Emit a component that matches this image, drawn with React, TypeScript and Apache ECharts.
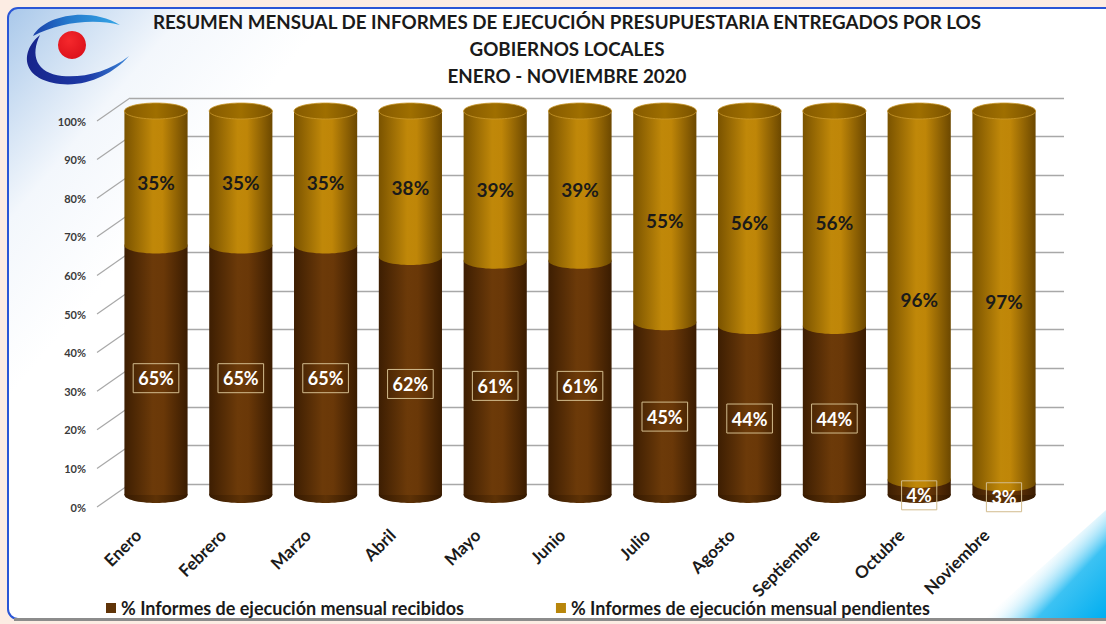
import React, { useEffect, useRef } from "react";
import * as echarts from "echarts";

const months = ["Enero", "Febrero", "Marzo", "Abril", "Mayo", "Junio", "Julio", "Agosto", "Septiembre", "Octubre", "Noviembre"];
const recibidos = [65, 65, 65, 62, 61, 61, 45, 44, 44, 4, 3];
const pendientes = [35, 35, 35, 38, 39, 39, 55, 56, 56, 96, 97];
const yTicks = [0, 10, 20, 30, 40, 50, 60, 70, 80, 90, 100];
const seriesNames = ["% Informes de ejecución mensual recibidos", "% Informes de ejecución mensual pendientes"];
const titleLines = [
  "RESUMEN MENSUAL DE INFORMES DE EJECUCIÓN PRESUPUESTARIA ENTREGADOS POR LOS",
  "GOBIERNOS LOCALES",
  "ENERO - NOVIEMBRE 2020",
];

const FONT = "Lato, 'Open Sans', sans-serif";

const TOP_SWOOSH = "M 33 36 C 44 16 88 6 120 25 C 92 18 58 23 33 36 Z";
const BOTTOM_SWOOSH = "M 40 35 C 21 50 19 79 60 84 C 87 87 113 74 129 56 C 109 72 83 78 62 76 C 36 73 30 55 40 35 Z";
let registered = false;
function registerShapes() {
  if (registered) return;
  registered = true;
  echarts.graphic.registerShape("swooshTop", echarts.graphic.extendPath(TOP_SWOOSH, {}));
  echarts.graphic.registerShape("swooshBottom", echarts.graphic.extendPath(BOTTOM_SWOOSH, {}));
}

const lg = (stops: [number, string][]) =>
  new echarts.graphic.LinearGradient(0, 0, 1, 0, stops.map(([offset, color]) => ({ offset, color })));

export default function App() {
  const ref = useRef<HTMLDivElement>(null);
  useEffect(() => {
    registerShapes();
    const chart = echarts.init(ref.current!, null, { renderer: "svg" });

    const brown = () => lg([[0, "#3d1e02"], [0.45, "#6c3a09"], [0.62, "#6a3808"], [1, "#3a1c01"]]);
    const brownBottom = () => lg([[0, "#361a01"], [0.5, "#5e3206"], [1, "#331800"]]);
    const gold = () => lg([[0, "#7a5300"], [0.45, "#c08809"], [0.6, "#bf8608"], [1, "#6c4800"]]);
    const topFace = () => lg([[0, "#855a00"], [0.5, "#9f6f00"], [1, "#7a5200"]]);

    const option: any = {
      animation: false,
      backgroundColor: "#fcece3",
      title: {
        text: titleLines.join("\n"),
        left: 567,
        top: 8,
        textAlign: "center",
        padding: 0,
        textStyle: { fontFamily: FONT, fontWeight: "bold", fontSize: 18.8, lineHeight: 27, color: "#1a1a1a" },
      },
      graphic: [
        {
          type: "rect",
          z: -10,
          shape: { x: 8, y: 8, width: 1120, height: 611, r: 10 },
          style: {
            fill: new echarts.graphic.LinearGradient(8, 8, 200, 170, [
              { offset: 0, color: "#a9c8ea" },
              { offset: 0.55, color: "#f3f7fc" },
              { offset: 1, color: "#ffffff" },
            ], true),
            stroke: "#2a56d6",
            lineWidth: 2,
          },
        },
        {
          type: "line",
          z: -9,
          shape: { x1: 14, y1: 619.5, x2: 1106, y2: 619.5 },
          style: { stroke: "#8c8c8c", lineWidth: 3 },
        },
        {
          type: "polygon",
          z: -8,
          shape: { points: [[985, 618], [1106, 618], [1106, 510]] },
          style: {
            fill: new echarts.graphic.LinearGradient(1106, 618, 1040, 556, [
              { offset: 0, color: "#00aef0" },
              { offset: 0.55, color: "#3cc2f3" },
              { offset: 1, color: "rgba(255,255,255,0)" },
            ], true),
          },
        },
        {
          type: "swooshTop",
          z: 5,
          x: 0,
          y: 0,
          scaleX: 1,
          scaleY: 1,
          style: {
            fill: new echarts.graphic.LinearGradient(33, 20, 120, 20, [
              { offset: 0, color: "#1a3fa8" },
              { offset: 0.4, color: "#2478cc" },
              { offset: 1, color: "#35a6e6" },
            ], true),
          },
        },
        {
          type: "swooshBottom",
          z: 5,
          x: 0,
          y: 0,
          scaleX: 1,
          scaleY: 1,
          style: {
            fill: new echarts.graphic.LinearGradient(25, 60, 129, 60, [
              { offset: 0, color: "#17238a" },
              { offset: 0.6, color: "#1d3aa6" },
              { offset: 1, color: "#3a86d8" },
            ], true),
          },
        },
        {
          type: "circle",
          z: 6,
          shape: { cx: 72, cy: 45, r: 14 },
          style: {
            fill: new echarts.graphic.RadialGradient(0.4, 0.35, 0.8, [
              { offset: 0, color: "#f5282c" },
              { offset: 1, color: "#d80d18" },
            ]),
          },
        },
      ],
      legend: {
        left: 101,
        top: 594,
        itemWidth: 10,
        itemHeight: 10,
        itemGap: 92,
        icon: "rect",
        selectedMode: false,
        data: seriesNames,
        textStyle: { fontFamily: FONT, fontWeight: "bold", fontSize: 18, color: "#1a1a1a" },
      },
      grid: [
        { left: 130, right: 42, top: 98, height: 386 },
        { left: 97, right: 900, top: 121, height: 386 },
        { left: 113.6, right: 59.6, top: 111, height: 384 },
        { left: 95.6, right: 77.6, top: 111, height: 384 },
      ],
      xAxis: [
        { gridIndex: 0, type: "category", data: months, show: false },
        { gridIndex: 1, type: "value", min: 0, max: 1, show: false },
        { gridIndex: 2, type: "category", data: months, show: false },
        {
          gridIndex: 3,
          type: "category",
          data: months,
          axisLine: { show: false },
          axisTick: { show: false },
          axisLabel: {
            interval: 0,
            rotate: 45,
            margin: 37,
            fontFamily: FONT,
            fontWeight: "bold",
            fontSize: 17,
            color: "#1a1a1a",
          },
        },
      ],
      yAxis: [
        {
          gridIndex: 0,
          type: "value",
          min: 0,
          max: 100,
          interval: 10,
          axisLine: { show: false },
          axisTick: { show: false },
          axisLabel: { show: false },
          splitLine: { show: true, lineStyle: { color: "#a8a8a8", width: 1.3 } },
        },
        {
          gridIndex: 1,
          type: "value",
          min: 0,
          max: 100,
          interval: 10,
          axisLine: { show: false },
          axisTick: { show: false },
          splitLine: { show: false },
          axisLabel: {
            formatter: "{value}%",
            margin: 11,
            fontFamily: FONT,
            fontWeight: "bold",
            fontSize: 11,
            color: "#3a3a3a",
          },
        },
        { gridIndex: 2, type: "value", min: 0, max: 100, show: false },
        { gridIndex: 3, type: "value", min: 0, max: 100, show: false },
      ],
      series: [
        {
          type: "custom",
          name: "diagonales",
          xAxisIndex: 1,
          yAxisIndex: 1,
          silent: true,
          clip: false,
          data: yTicks.map((v) => [0, v]),
          renderItem: (_p: any, api: any) => {
            const pt = api.coord([0, api.value(1)]);
            return {
              type: "line",
              shape: { x1: pt[0], y1: pt[1], x2: pt[0] + 33, y2: pt[1] - 23 },
              style: { stroke: "#a8a8a8", lineWidth: 1.2 },
            };
          },
        },
        {
          type: "custom",
          name: "cilindros",
          xAxisIndex: 2,
          yAxisIndex: 2,
          clip: false,
          encode: { x: 0, y: 1 },
          data: months.map((_m, i) => [i, recibidos[i], pendientes[i]]),
          renderItem: (_p: any, api: any) => {
            const idx = api.value(0);
            const r = api.value(1);
            const p = api.value(2);
            const base = api.coord([idx, 0]);
            const mid = api.coord([idx, r]);
            const top = api.coord([idx, r + p]);
            const bw = api.size([1, 0])[0] * 0.745;
            const cx = base[0];
            const x0 = cx - bw / 2;
            const ry = 8;
            return {
              type: "group",
              children: [
                { type: "ellipse", shape: { cx, cy: base[1], rx: bw / 2, ry }, style: { fill: brownBottom() } },
                { type: "rect", shape: { x: x0, y: mid[1], width: bw, height: base[1] - mid[1] }, style: { fill: brown() } },
                { type: "ellipse", shape: { cx, cy: mid[1], rx: bw / 2, ry }, style: { fill: gold() } },
                { type: "rect", shape: { x: x0, y: top[1], width: bw, height: mid[1] - top[1] }, style: { fill: gold() } },
                {
                  type: "ellipse",
                  shape: { cx, cy: top[1], rx: bw / 2, ry },
                  style: { fill: topFace(), stroke: "#c9982c", lineWidth: 0.8 },
                },
                {
                  type: "text",
                  x: cx,
                  y: (base[1] + mid[1]) / 2 + 8,
                  style: {
                    text: r + "%",
                    fill: "#ffffff",
                    font: `bold 18px ${FONT}`,
                    align: "center",
                    verticalAlign: "middle",
                    borderColor: "#d2bc8e",
                    borderWidth: 1,
                    padding: [6, 5, 5, 5],
                  },
                },
                {
                  type: "text",
                  x: cx,
                  y: (mid[1] + top[1]) / 2 + 4,
                  style: {
                    text: p + "%",
                    fill: "#1a1a1a",
                    font: `bold 19px ${FONT}`,
                    align: "center",
                    verticalAlign: "middle",
                  },
                },
              ],
            };
          },
        },
        {
          type: "bar",
          name: seriesNames[0],
          xAxisIndex: 3,
          yAxisIndex: 3,
          data: [],
          itemStyle: { color: "#603408" },
        },
        {
          type: "bar",
          name: seriesNames[1],
          xAxisIndex: 3,
          yAxisIndex: 3,
          data: [],
          itemStyle: { color: "#b8860b" },
        },
      ],
    };
    chart.setOption(option);
    return () => chart.dispose();
  }, []);
  return <div ref={ref} style={{ position: "fixed", left: 0, top: 0, width: 1106, height: 624 }} />;
}
